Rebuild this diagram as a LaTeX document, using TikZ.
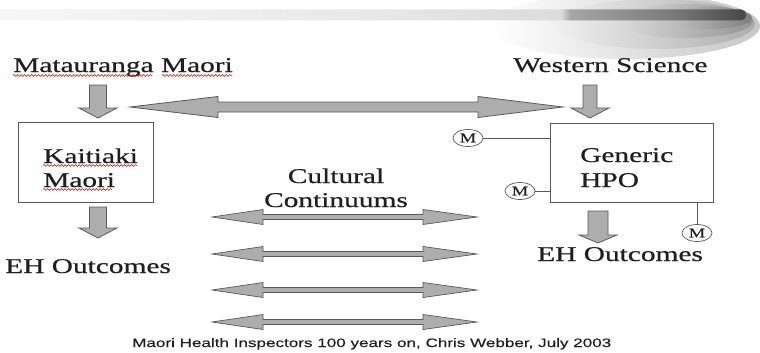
\documentclass[tikz,border=0pt]{standalone}
\usepackage{fontspec}
\setmainfont{Liberation Serif}[FakeStretch=1.4,FakeBold=0.5]
\newfontfamily\footerfont{Liberation Sans}[FakeStretch=1.4,FakeBold=0.2]
\usepackage{tikz}
\usetikzlibrary{positioning,shapes.geometric,decorations.pathmorphing}

% header bar, light on the left and dark at its rounded end
\pgfdeclarehorizontalshading{barshade}{100bp}{color(0bp)=(black!3); color(25bp)=(black!3);
  color(50bp)=(black!9); color(62.7bp)=(black!14); color(63.3bp)=(black!35);
  color(70bp)=(black!52); color(75bp)=(black!72); color(100bp)=(black!72)}

\definecolor{arrowfill}{gray}{0.68}
\definecolor{arrowline}{gray}{0.35}
\definecolor{inkgray}{gray}{0.12}

\begin{document}
\begin{tikzpicture}[x=1pt,y=-1pt]
    \tikzstyle{txt}=[font=\fontsize{21}{24}\selectfont, text=inkgray, inner sep=0]
    \tikzstyle{box}=[draw=arrowline, line width=0.8pt]
    \tikzstyle{blockarrow}=[fill=arrowfill, draw=arrowline, line width=0.8pt]
    \tikzstyle{thinarrow}=[fill=arrowfill, draw=arrowline, line width=0.7pt]
    \tikzstyle{meter}=[ellipse, draw=arrowline, line width=0.7pt, minimum width=30,
        minimum height=17, inner sep=0, font=\fontsize{13}{13}\selectfont, text=inkgray]
    \tikzstyle{link}=[draw=arrowline, line width=0.7pt]
    \tikzstyle{squiggle}=[red!85!black, line width=0.5pt,
        decorate, decoration={snake, amplitude=1pt, segment length=3.5pt}]

    \useasboundingbox (0,0) rectangle (760,353);
    \fill[white] (0,0) rectangle (760,353);

    % header: glow rings round the end of the bar
    \shade[left color=white, right color=black!22] (625,26) ellipse [x radius=135, y radius=33];
    \shade[left color=black!6, right color=black!32] (655,24) ellipse [x radius=100, y radius=25];
    \shade[left color=black!14, right color=black!42] (685,21) ellipse [x radius=68, y radius=17];
    \shade[left color=black!24, right color=black!50] (710,18) ellipse [x radius=42, y radius=11];
    \shade[shading=barshade, rounded corners=5] (-5,9.5) rectangle (746,20.5);

    % titles
    \node[txt, anchor=base west] (matauranga) at (13,72) {Matauranga Maori};
    \node[txt, anchor=base west] (western) at (513,72) {Western Science};

    % boxes
    \node[box, minimum width=135, minimum height=80] (kaitiaki) at (85.5,162) {};
    \node[txt, anchor=base west] (kaitiaki1) at (43,163) {Kaitiaki};
    \node[txt, anchor=base west] (kaitiaki2) at (43,187) {Maori};

    \node[box, minimum width=163, minimum height=79] (hpo) at (631.5,162.5) {};
    \node[txt, anchor=base west] (hpo1) at (580,162) {Generic};
    \node[txt, anchor=base west] (hpo2) at (580,187) {HPO};

    % outcomes
    \node[txt, anchor=base west] (outleft) at (5,273) {EH Outcomes};
    \node[txt, anchor=base west] (outright) at (537,261) {EH Outcomes};

    \node[txt, anchor=base] (cultural) at (336,183) {Cultural};
    \node[txt, anchor=base] (continuums) at (336,207) {Continuums};

    % down arrows: centre/top/head/tip/shaft/head half width
    \foreach \c/\t/\b/\p/\s/\h in {98/85/108/118/8.5/19, 590/85/108/118/7/19,
                                   98/207/228/238/8.5/19, 598/211/235/243/10/19}
        \filldraw[blockarrow] (\c-\s,\t) -- (\c+\s,\t) -- (\c+\s,\b) -- (\c+\h,\b)
            -- (\c,\p) -- (\c-\h,\b) -- (\c-\s,\b) -- cycle;

    % big two way arrow
    \filldraw[blockarrow] (130,107) -- (218,96.5) -- (218,102) -- (478,102) -- (478,96.5)
        -- (563,107) -- (478,117.5) -- (478,112) -- (218,112) -- (218,117.5) -- cycle;

    % continuums
    \foreach \y in {217,254,290,322}
        \filldraw[thinarrow] (212,\y) -- (263,\y-7.5) -- (263,\y-2.5) -- (423,\y-2.5)
            -- (423,\y-7.5) -- (477,\y) -- (423,\y+7.5) -- (423,\y+2.5) -- (263,\y+2.5)
            -- (263,\y+7.5) -- cycle;

    % M markers on the HPO box
    \node[meter] (m1) at (468,138) {M};
    \node[meter] (m2) at (520,191) {M};
    \node[meter] (m3) at (697,233) {M};
    \draw[link] (m1) -- (m1 -| hpo.west);
    \draw[link] (m2) -- (m2 -| hpo.west);
    \draw[link] (m3) -- (m3 |- hpo.south);

    % spelling marks
    \draw[squiggle] (13,75.5) -- (152,75.5);
    \draw[squiggle] (162,75.5) -- (232,75.5);
    \draw[squiggle] (43,165.5) -- (137,165.5);
    \draw[squiggle] (43,189.5) -- (112,189.5);

    \node[anchor=base west, inner sep=0, font=\footerfont\fontsize{12.2}{12}\selectfont,
        text=inkgray] (footer) at (132,347)
        {Maori Health Inspectors 100 years on, Chris Webber, July 2003};
\end{tikzpicture}
\end{document}
